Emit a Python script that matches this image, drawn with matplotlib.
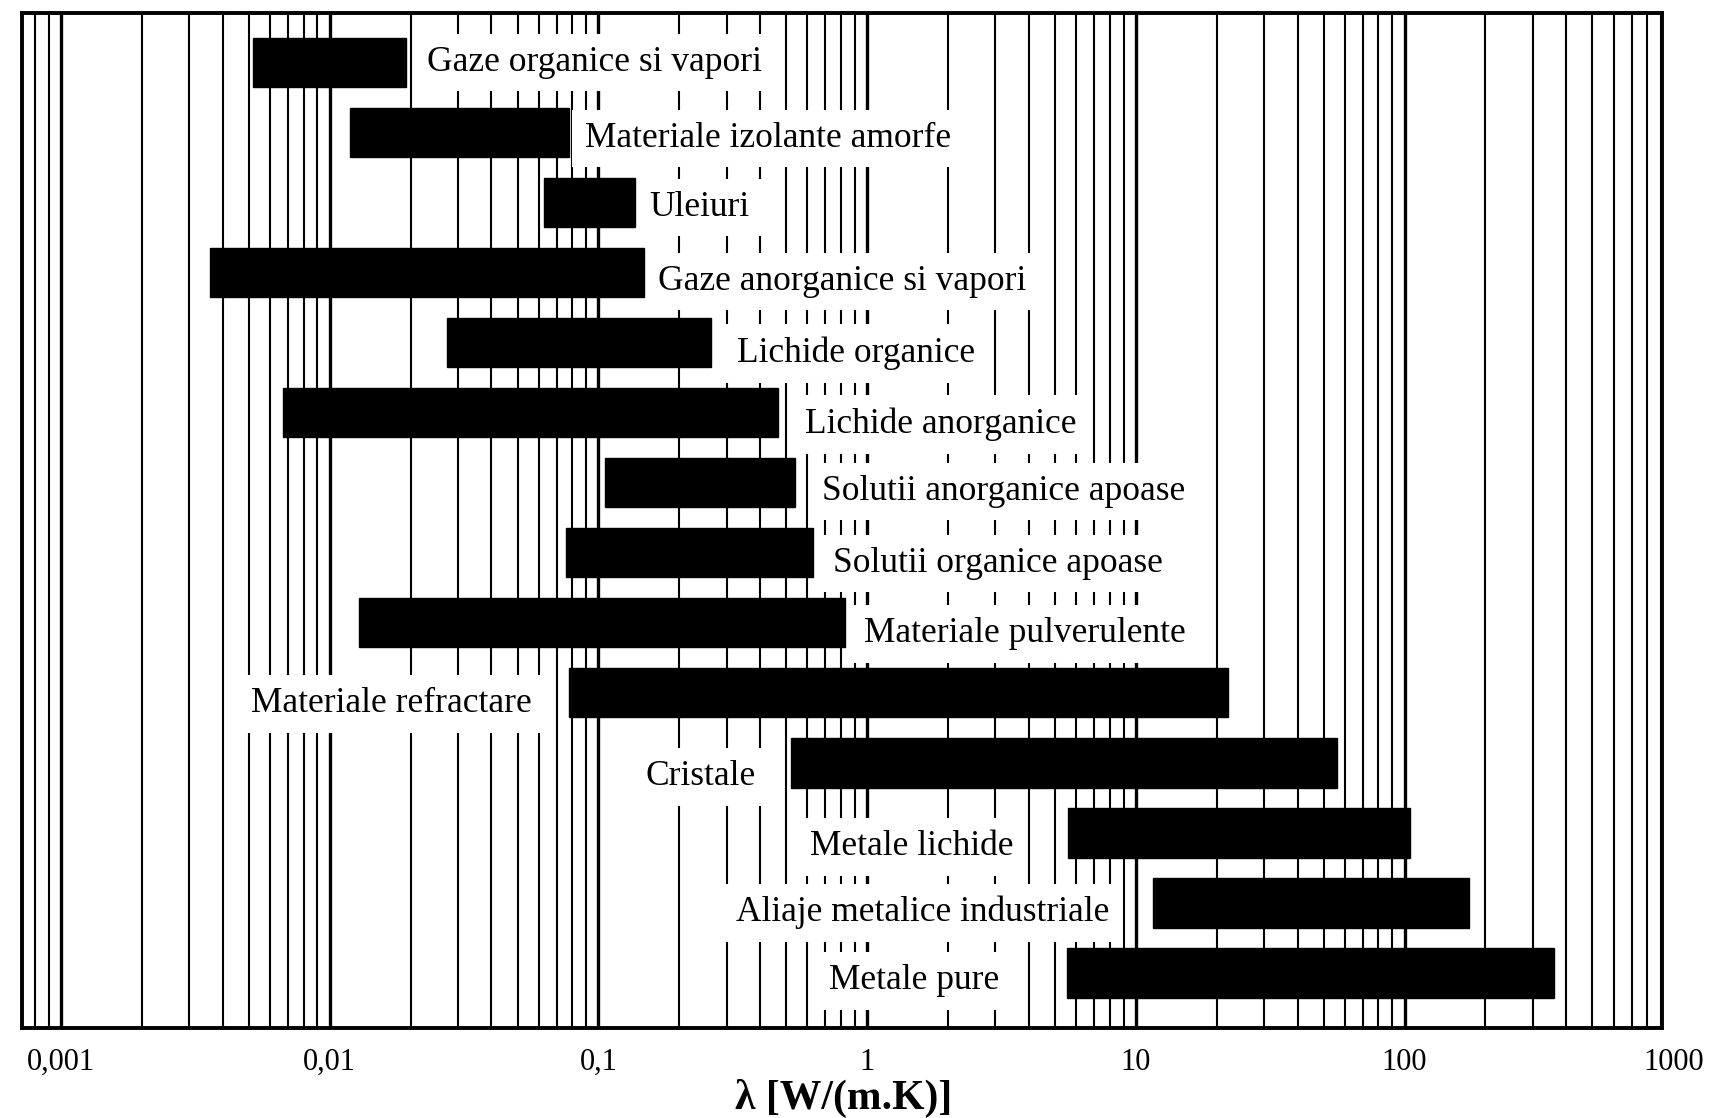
import numpy as np
import matplotlib.pyplot as plt
import matplotlib.transforms as mtransforms

plt.rcParams['font.family'] = ['Liberation Serif', 'DejaVu Serif']

# materiale si domeniul conductivitatii termice lambda [W/(m.K)]
materiale = ['Gaze organice si vapori', 'Materiale izolante amorfe', 'Uleiuri',
             'Gaze anorganice si vapori', 'Lichide organice', 'Lichide anorganice',
             'Solutii anorganice apoase', 'Solutii organice apoase',
             'Materiale pulverulente', 'Materiale refractare', 'Cristale',
             'Metale lichide', 'Aliaje metalice industriale', 'Metale pure']
lam_min = [0.0052, 0.0119, 0.0625, 0.0036, 0.0274, 0.0067, 0.106, 0.076,
           0.0128, 0.078, 0.52, 5.6, 11.6, 5.55]
lam_max = [0.0193, 0.0774, 0.137, 0.148, 0.262, 0.465, 0.54, 0.63,
           0.83, 22.1, 56.0, 105, 174, 359]
tick_vals = [0.001, 0.01, 0.1, 1, 10, 100, 1000]
tick_text = ['0,001', '0,01', '0,1', '1', '10', '100', '1000']

# eticheta in dreapta barei (primele 9) sau in stanga (ultimele 5)
side = ['right'] * 9 + ['left'] * 5
gap = [21, 16, 14, 14, 26, 27, 27, 20, 19, 38, 35, 55, 44, 68]
dy = [0, 6, 5, 9, 11, 12, 9, 11, 11, 11, 14, 14, 10, 8]

W, H = 1718, 1118
fig = plt.figure(figsize=(W / 100, H / 100), dpi=100)
ax = fig.add_axes([22 / W, 1 - 1028 / H, 1640 / W, 1015 / H])

# scara: 0,001 la x=61 px, 268.7 px pe decada
x0, ppd = 61, 268.7
xl = 10 ** (-3 + (22 - x0) / ppd)
xr = 10 ** (-3 + (1662 - x0) / ppd)
ax.set_xscale('log')
ax.set_xlim(xl, xr)
n = len(materiale)
ax.set_ylim(13.79, -0.707)

# liniile de fond (hartie logaritmica)
for d in range(-4, 3):
    for k in range(1, 10):
        v = k * 10.0 ** d
        if xl < v < xr:
            ax.axvline(v, color='black', lw=2.4 if k == 1 else 1.5, zorder=1)

y = np.arange(n)
ax.barh(y, np.array(lam_max) - np.array(lam_min), left=lam_min, height=0.71,
        color='black', edgecolor='black', zorder=3)

for i, name in enumerate(materiale):
    if side[i] == 'right':
        xy, off, ha = (lam_max[i], y[i]), gap[i], 'left'
    else:
        xy, off, ha = (lam_min[i], y[i]), -gap[i], 'right'
    ax.annotate(name, xy, xytext=(off, -dy[i]), textcoords='offset pixels',
                ha=ha, va='center', fontsize=25.5, zorder=4,
                bbox=dict(facecolor='white', edgecolor='none', pad=9))

ax.set_xticks([])
ax.set_yticks([])
ax.minorticks_off()
for s in ax.spines.values():
    s.set_linewidth(2.8)
    s.set_zorder(5)

trans = mtransforms.blended_transform_factory(ax.transData, fig.transFigure)
for v, t in zip(tick_vals, tick_text):
    ax.text(v, 1 - 1062 / H, t, transform=trans, ha='center', va='center',
            fontsize=22, clip_on=False)
ax.text(10 ** (-3 + (844 - x0) / ppd), 1 - 1098 / H, 'λ [W/(m.K)]',
        transform=trans, ha='center', va='center', fontsize=30,
        fontweight='bold', clip_on=False)

fig.savefig('out.png', dpi=100)
